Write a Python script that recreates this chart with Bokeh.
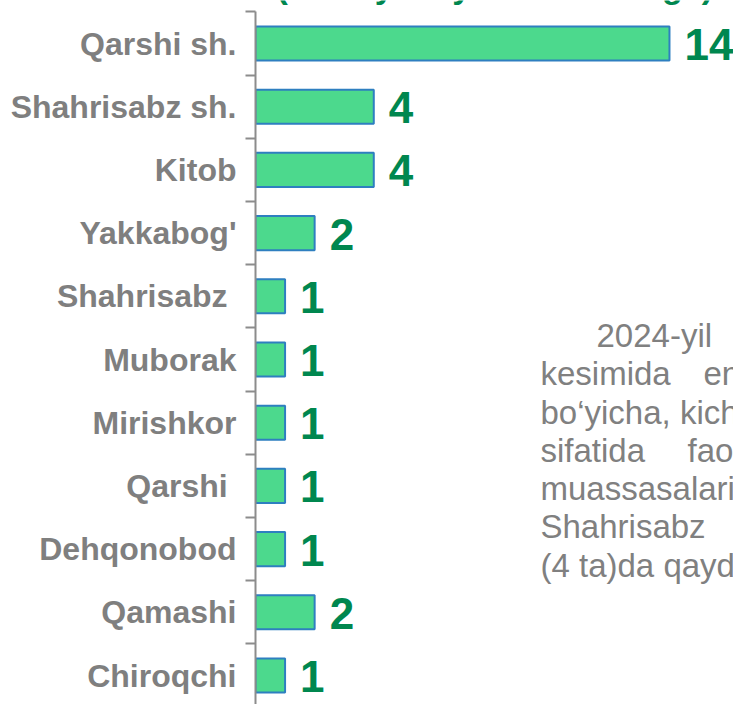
from bokeh.plotting import figure
from bokeh.models import FixedTicker, ColumnDataSource, Range1d
from bokeh.embed import file_html
from bokeh.resources import INLINE
from bokeh.core.properties import value

# ---- data ----
categories = ["Qarshi sh.", "Shahrisabz sh.", "Kitob", "Yakkabog'", "Shahrisabz ",
              "Muborak", "Mirishkor", "Qarshi ", "Dehqonobod", "Qamashi", "Chiroqchi"]
counts = [14, 4, 4, 2, 1, 1, 1, 1, 1, 2, 1]
count_labels = [str(c) for c in counts]
title_text = "(2024-yil 1-yanvar holatiga)"
note_lines = [
    ["2024-yil"],
    ["kesimida", "eng"],
    ["bo‘yicha, kichik"],
    ["sifatida", "faoliyat"],
    ["muassasalari"],
    ["Shahrisabz"],
    ["(4 ta)da qayd etilgan"],
]

# ---- layout (pixel geometry of the picture) ----
W, H = 733, 704
AXIS_PX = 255.0
UNIT_PX = 29.57
ROW_PX = 63.2
ROW0_PX = 43.0

def x_of(px):
    return (px - AXIS_PX) / UNIT_PX

def y_of(py):
    return (len(categories) - 1) - (py - ROW0_PX) / ROW_PX

ypos = [len(categories) - 1 - i for i in range(len(categories))]
y_start, y_end = y_of(H), y_of(0)
x_start, x_end = 0.0, x_of(W)

p = figure(width=W, height=H, output_backend="svg", toolbar_location=None,
           x_range=Range1d(x_start, x_end), y_range=Range1d(y_start, y_end),
           min_border_left=int(AXIS_PX), min_border_right=0,
           min_border_top=0, min_border_bottom=0)
p.outline_line_color = None
p.xgrid.visible = False
p.ygrid.visible = False
p.xaxis.visible = False
p.background_fill_color = "white"

src = ColumnDataSource(dict(y=ypos, right=counts, lab=count_labels))
p.hbar(y="y", left=0, right="right", height=0.54, source=src,
       fill_color="#4cd98d", line_color="#2e7fc0", line_width=2)
p.text(x="right", y="y", text="lab", source=src, x_offset=15, y_offset=1,
       text_align="left", text_baseline="middle",
       text_font=value("Liberation Sans"), text_font_style="bold",
       text_font_size="44px", text_color="#00874f")

yax = p.yaxis[0]
yax.ticker = FixedTicker(ticks=ypos, minor_ticks=[v + 0.5 for v in ypos] + [-0.5])
yax.major_label_overrides = {v: c for v, c in zip(ypos, categories)}
yax.major_tick_out = 0
yax.major_tick_in = 0
yax.minor_tick_out = 10
yax.minor_tick_in = 0
yax.minor_tick_line_color = "#8c8c8c"
yax.minor_tick_line_width = 2
yax.axis_line_color = "#8c8c8c"
yax.axis_line_width = 2
yax.bounds = (y_start, ypos[0] + 0.5)
yax.major_label_standoff = 9
yax.major_label_text_font = "Liberation Sans"
yax.major_label_text_font_style = "bold"
yax.major_label_text_font_size = "32px"
yax.major_label_text_color = "#7f7f7f"

# title (cut off at the top, as in the reference)
p.text(x=[x_of(276)], y=[y_of(-15)], text=[title_text], text_align="left",
       text_baseline="middle", text_font=value("Liberation Sans"),
       text_font_style="bold", text_font_size="34px", text_color="#00874f")

# right-hand note (justified paragraph, clipped at the right edge)
word_x = [[596], [540, 703], [540], [540, 687], [540], [540], [540]]
line_mid = [335, 373, 412, 450, 488, 526, 565]
nx, ny, nt = [], [], []
for words, xs, my in zip(note_lines, word_x, line_mid):
    for w, wx in zip(words, xs):
        nx.append(x_of(wx))
        ny.append(y_of(my))
        nt.append(w)
p.text(x=nx, y=ny, text=nt, text_align="left", text_baseline="middle",
       text_font=value("Liberation Sans"), text_font_size="33px",
       text_color="#808080")

open("out.html", "w").write(file_html(p, INLINE))
